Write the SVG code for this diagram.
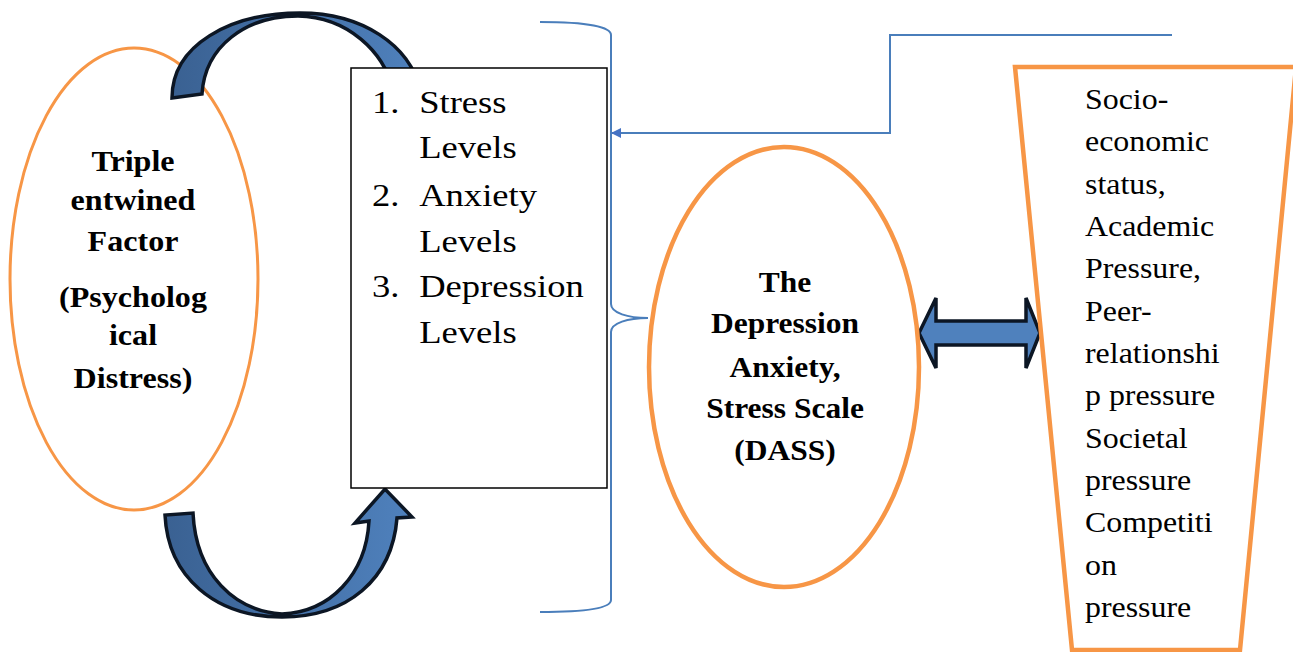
<svg xmlns="http://www.w3.org/2000/svg" width="1293" height="652" viewBox="0 0 1293 652">
<defs>
<style>
.oval{fill:none;stroke:#f79646}
.bold{font-family:'Liberation Serif','DejaVu Serif','Times New Roman',serif;font-weight:bold;font-size:30px;fill:#000}
.reg{font-family:'Liberation Serif','DejaVu Serif','Times New Roman',serif;font-size:31px;fill:#000}
.reg2{font-family:'Liberation Serif','DejaVu Serif','Times New Roman',serif;font-size:29px;fill:#000}
.blockarrow{stroke:#0c1624;stroke-width:3.5;stroke-linejoin:miter}
.conn{fill:none;stroke:#4a7ebb;stroke-width:2}
</style>
<linearGradient id="gArrow" x1="0" y1="0" x2="1" y2="0">
<stop offset="0" stop-color="#3a6192"/>
<stop offset="1" stop-color="#4f81bd"/>
</linearGradient>
<marker id="ah" markerWidth="10" markerHeight="10" refX="9" refY="5" orient="auto" markerUnits="userSpaceOnUse" viewBox="0 0 10 10">
<path d="M0,0 L10,5 L0,10 Z" fill="#4472c4"/>
</marker>
</defs>
<rect width="1293" height="652" fill="#fff"/>

<g id="node-triple">
<ellipse class="oval" cx="134" cy="279" rx="124" ry="231" stroke-width="3"/>
<g transform="translate(133,0) scale(1.07,1)">
<text class="bold" font-family="Liberation Serif" text-anchor="middle" x="0" y="171">Triple</text>
<text class="bold" font-family="Liberation Serif" text-anchor="middle" x="0" y="210">entwined</text>
<text class="bold" font-family="Liberation Serif" text-anchor="middle" x="0" y="251">Factor</text>
<text class="bold" font-family="Liberation Serif" text-anchor="middle" x="0" y="307">(Psycholog</text>
<text class="bold" font-family="Liberation Serif" text-anchor="middle" x="0" y="345">ical</text>
<text class="bold" font-family="Liberation Serif" text-anchor="middle" x="0" y="388">Distress)</text>
</g>
</g>

<g id="connectors">
<path id="arrow-top" class="blockarrow" fill="url(#gArrow)" d="M172,98 C172,45 230,13 300,13 C362,13 410,45 420,90 L393,90 C384,52 348,17 298,16 C246,16 205,46 202,94 Z"/>
<path id="arrow-bottom" class="blockarrow" fill="url(#gArrow)" d="M165,515 C168,577 215,617 282,617 C347,617 392,580 397,518 L412,517 L385,489 L355,523 L369,521 C366,575 330,612 282,614 C235,611 196,575 193,513 Z"/>
<path id="arrow-double" class="blockarrow" fill="#4f81bd" stroke-width="4" d="M919,333 L936,298 L936,321 L1026,321 L1026,298 L1040,333 L1026,368 L1026,345 L936,345 L936,368 Z"/>
<path id="brace" class="conn" stroke-width="1.6" d="M540,22 C588,22 611,27 611,35 L611,304 C611,313 628,318 648,318 C628,318 611,323 611,332 L611,600 C611,608 588,612 540,612"/>
<polyline id="line-factors" class="conn" points="1172,35 890,35 890,133 612,133" marker-end="url(#ah)"/>
</g>

<g id="node-levels">
<rect x="351" y="68" width="256" height="420" fill="#fff" stroke="#000" stroke-width="1.5"/>
<g transform="translate(372,0) scale(1.18,1)">
<text class="reg" font-family="Liberation Serif" x="0" y="113">1.</text>
<text class="reg" font-family="Liberation Serif" x="40" y="113">Stress</text>
<text class="reg" font-family="Liberation Serif" x="40" y="158">Levels</text>
<text class="reg" font-family="Liberation Serif" x="0" y="206">2.</text>
<text class="reg" font-family="Liberation Serif" x="40" y="206">Anxiety</text>
<text class="reg" font-family="Liberation Serif" x="40" y="252">Levels</text>
<text class="reg" font-family="Liberation Serif" x="0" y="297">3.</text>
<text class="reg" font-family="Liberation Serif" x="40" y="297">Depression</text>
<text class="reg" font-family="Liberation Serif" x="40" y="343">Levels</text>
</g>
</g>

<g id="node-dass">
<ellipse class="oval" cx="784" cy="367" rx="135" ry="220" stroke-width="4.5"/>
<g transform="translate(785,0) scale(1.05,1)">
<text class="bold" font-family="Liberation Serif" text-anchor="middle" x="0" y="292">The</text>
<text class="bold" font-family="Liberation Serif" text-anchor="middle" x="0" y="333">Depression</text>
<text class="bold" font-family="Liberation Serif" text-anchor="middle" x="0" y="377">Anxiety,</text>
<text class="bold" font-family="Liberation Serif" text-anchor="middle" x="0" y="418">Stress Scale</text>
<text class="bold" font-family="Liberation Serif" text-anchor="middle" x="0" y="460">(DASS)</text>
</g>
</g>

<g id="node-factors">
<polygon points="1015,67 1296,67 1240,650 1072,650" fill="#fff" stroke="#f79646" stroke-width="4.5"/>
<g transform="translate(1085,0) scale(1.1,1)">
<text class="reg2" font-family="Liberation Serif" x="0" y="109">Socio-</text>
<text class="reg2" font-family="Liberation Serif" x="0" y="151">economic</text>
<text class="reg2" font-family="Liberation Serif" x="0" y="194">status,</text>
<text class="reg2" font-family="Liberation Serif" x="0" y="236">Academic</text>
<text class="reg2" font-family="Liberation Serif" x="0" y="278">Pressure,</text>
<text class="reg2" font-family="Liberation Serif" x="0" y="321">Peer-</text>
<text class="reg2" font-family="Liberation Serif" x="0" y="363">relationshi</text>
<text class="reg2" font-family="Liberation Serif" x="0" y="405">p pressure</text>
<text class="reg2" font-family="Liberation Serif" x="0" y="448">Societal</text>
<text class="reg2" font-family="Liberation Serif" x="0" y="490">pressure</text>
<text class="reg2" font-family="Liberation Serif" x="0" y="532">Competiti</text>
<text class="reg2" font-family="Liberation Serif" x="0" y="575">on</text>
<text class="reg2" font-family="Liberation Serif" x="0" y="617">pressure</text>
</g>
</g>
</svg>
